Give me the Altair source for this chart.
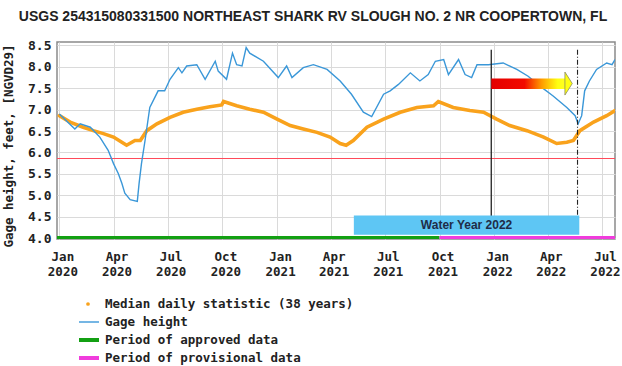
import altair as alt
import pandas as pd

TITLE = "USGS 254315080331500 NORTHEAST SHARK RV SLOUGH NO. 2 NR COOPERTOWN, FL"
Y_TITLE = "Gage height, feet, [NGVD29]"
MONO = "DejaVu Sans Mono"
SANS = "Liberation Sans"

# Gage height (feet, NGVD29)
gage_dates = [
    "2020-01-01", "2020-01-27", "2020-02-05", "2020-02-22", "2020-03-09", "2020-03-23",
    "2020-04-01", "2020-04-09", "2020-04-15", "2020-04-20", "2020-04-29", "2020-05-11",
    "2020-05-14", "2020-05-18", "2020-05-24", "2020-06-01", "2020-06-15", "2020-06-26",
    "2020-07-05", "2020-07-19", "2020-07-25", "2020-08-02", "2020-08-19", "2020-09-02",
    "2020-09-19", "2020-09-24", "2020-10-08", "2020-10-18", "2020-10-25", "2020-11-03",
    "2020-11-10", "2020-11-16", "2020-12-09", "2021-01-03", "2021-01-17", "2021-01-26",
    "2021-02-14", "2021-03-03", "2021-03-26", "2021-04-17", "2021-05-06", "2021-05-26",
    "2021-06-09", "2021-06-29", "2021-07-10", "2021-07-24", "2021-08-13", "2021-08-29",
    "2021-09-12", "2021-09-24", "2021-10-08", "2021-10-16", "2021-11-02", "2021-11-13",
    "2021-11-24", "2021-12-03", "2021-12-22", "2022-01-16", "2022-02-08", "2022-02-27",
    "2022-03-19", "2022-04-10", "2022-05-03", "2022-05-17", "2022-05-22", "2022-05-28",
    "2022-06-02", "2022-06-10", "2022-06-22", "2022-07-09", "2022-07-18", "2022-07-23",
]
gage_values = [
    6.90, 6.55, 6.67, 6.59, 6.36, 6.05,
    5.74, 5.51, 5.28, 5.05, 4.90, 4.86,
    5.28, 5.74, 6.28, 7.05, 7.44, 7.44,
    7.71, 7.98, 7.86, 8.02, 8.05, 7.71,
    8.13, 7.90, 7.71, 8.32, 8.05, 8.02,
    8.45, 8.32, 8.13, 7.75, 8.02, 7.75,
    7.98, 8.05, 7.94, 7.67, 7.36, 6.94,
    6.84, 7.36, 7.44, 7.59, 7.86, 7.67,
    7.82, 8.13, 8.17, 7.82, 8.17, 7.82,
    7.75, 8.05, 8.05, 8.09, 7.94, 7.78,
    7.55, 7.32, 7.05, 6.86, 6.67, 6.86,
    7.44, 7.67, 7.94, 8.09, 8.05, 8.17,
]

# Median daily statistic (38 years)
median_dates = [
    "2020-01-01", "2020-01-19", "2020-02-10", "2020-02-27", "2020-03-15", "2020-04-01",
    "2020-04-15", "2020-04-23", "2020-05-07", "2020-05-16", "2020-05-27", "2020-06-13",
    "2020-07-05", "2020-07-27", "2020-08-19", "2020-09-10", "2020-09-30", "2020-10-03",
    "2020-10-25", "2020-11-16", "2020-12-09", "2021-01-01", "2021-01-23", "2021-02-14",
    "2021-03-09", "2021-03-31", "2021-04-17", "2021-04-27", "2021-05-09", "2021-06-01",
    "2021-06-29", "2021-07-27", "2021-08-24", "2021-09-21", "2021-09-29", "2021-10-24",
    "2021-11-21", "2021-12-14", "2022-01-05", "2022-01-27", "2022-02-25", "2022-03-25",
    "2022-04-16", "2022-05-03", "2022-05-14", "2022-05-25", "2022-06-17", "2022-07-09",
    "2022-07-23",
]
median_values = [
    6.86, 6.71, 6.59, 6.51, 6.44, 6.36,
    6.24, 6.17, 6.28, 6.28, 6.51, 6.67,
    6.82, 6.94, 7.01, 7.07, 7.11, 7.19,
    7.09, 7.01, 6.94, 6.78, 6.63, 6.55,
    6.47, 6.36, 6.21, 6.17, 6.28, 6.59,
    6.78, 6.94, 7.05, 7.09, 7.19, 7.05,
    6.98, 6.94, 6.78, 6.63, 6.51, 6.36,
    6.21, 6.24, 6.28, 6.51, 6.71, 6.86,
    6.98,
]

threshold_value = 5.86

# Data-approval periods shown along the bottom edge
period_names = ["approved", "provisional"]
period_starts = ["2019-12-28", "2021-10-01"]
period_ends = ["2021-10-01", "2022-07-23"]
period_colors = ["#13a013", "#f03cdc"]

# Annotations
current_marker_date = "2021-12-27"
recent_marker_date = "2022-05-21"
water_year_label = "Water Year 2022"
water_year_start, water_year_end = "2021-05-10", "2022-05-24"
arrow_start, arrow_head_base, arrow_head_mid = "2021-12-27", "2022-04-30", "2022-05-06"

legend_labels = [
    "Median daily statistic (38 years)",
    "Gage height",
    "Period of approved data",
    "Period of provisional data",
]


def ts(d):
    return d + "T00:00:00"


x_scale = alt.Scale(domain=[alt.DateTime(year=2019, month=12, date=28),
                            alt.DateTime(year=2022, month=7, date=23)])
y_scale = alt.Scale(domain=[3.98, 8.58], nice=False, zero=False)

quarter_ticks = [alt.DateTime(year=y, month=m, date=1)
                 for y in (2020, 2021, 2022) for m in (1, 4, 7, 10)
                 if not (y == 2022 and m == 10)]

x_axis = alt.Axis(
    values=quarter_ticks,
    labelExpr="[timeFormat(datum.value, '%b'), timeFormat(datum.value, '%Y')]",
    title=None, grid=True, gridColor="#dadada", ticks=False, domain=False,
    labelFont=MONO, labelFontSize=12.5, labelFontWeight="bold", labelColor="#222",
    labelPadding=11, labelLineHeight=15, labelOffset=3, labelAngle=0,
)
y_axis = alt.Axis(
    values=[4.0, 4.5, 5.0, 5.5, 6.0, 6.5, 7.0, 7.5, 8.0, 8.5], format=".1f",
    title=None, grid=True, gridColor="#dadada", ticks=False, domain=False,
    labelFont=MONO, labelFontSize=13, labelFontWeight="bold", labelColor="#222",
    labelPadding=6,
)


def X(field="date"):
    return alt.X(f"{field}:T", scale=x_scale, axis=x_axis)


def Y(field="value"):
    return alt.Y(f"{field}:Q", scale=y_scale, axis=y_axis)


gage = pd.DataFrame({"date": [ts(d) for d in gage_dates], "value": gage_values})
median = pd.DataFrame({"date": [ts(d) for d in median_dates], "value": median_values})

median_line = alt.Chart(median).mark_line(
    color="#f9a21c", strokeWidth=3.6, clip=True, strokeCap="round"
).encode(x=X(), y=Y())

gage_line = alt.Chart(gage).mark_line(
    color="#3a97d8", strokeWidth=1.4, clip=True
).encode(x=X(), y=Y())

threshold = alt.Chart(pd.DataFrame({"value": [threshold_value]})).mark_rule(
    color="#ff4a5a", strokeWidth=1.2
).encode(y=Y())

markers = pd.DataFrame({
    "date": [ts(current_marker_date), ts(recent_marker_date)],
    "top": [8.40, 8.40], "bottom": [4.30, 4.30], "kind": ["solid", "dashed"],
})
solid_marker = alt.Chart(markers[markers.kind == "solid"]).mark_rule(
    color="#222", strokeWidth=1.3
).encode(x=X(), y=Y("top"), y2="bottom")
dashed_marker = alt.Chart(markers[markers.kind == "dashed"]).mark_rule(
    color="#222", strokeWidth=1.1, strokeDash=[5, 2, 1, 2]
).encode(x=X(), y=Y("top"), y2="bottom")

wy = pd.DataFrame({"start": [ts(water_year_start)], "end": [ts(water_year_end)],
                   "lo": [4.08], "hi": [4.53], "label": [water_year_label]})
wy_box = alt.Chart(wy).mark_rect(color="#5ec6f4").encode(
    x=X("start"), x2="end", y=Y("lo"), y2="hi")
wy_text = alt.Chart(wy).transform_calculate(
    mid="(toDate(datum.start) + toDate(datum.end)) / 2", ymid="(datum.lo + datum.hi) / 2"
).mark_text(font=SANS, fontSize=12, fontWeight="bold", color="#1f2c48",
            baseline="middle").encode(
    x=X("mid"), y=Y("ymid"), text="label:N")

arrow_body = alt.Chart(pd.DataFrame({
    "start": [ts(arrow_start)], "end": [ts(arrow_head_base)], "lo": [7.48], "hi": [7.73]
})).mark_rect(
    color=alt.Gradient(
        gradient="linear", x1=0, x2=1, y1=0, y2=0,
        stops=[alt.GradientStop(offset=0, color="#e40000"),
               alt.GradientStop(offset=0.45, color="#f20a00"),
               alt.GradientStop(offset=0.68, color="#ff9a00"),
               alt.GradientStop(offset=0.9, color="#ffff10"),
               alt.GradientStop(offset=1, color="#ffff20")]),
).encode(x=X("start"), x2="end", y=Y("lo"), y2="hi")

arrow_head = alt.Chart(pd.DataFrame({"date": [ts(arrow_head_mid)], "value": [7.61]})).mark_point(
    shape="M -0.32 -1 L 0.32 0 L -0.32 1 Z", size=530, filled=True,
    fill="#ffff10", stroke="#8a8a60", strokeWidth=0.8, opacity=1
).encode(x=X(), y=Y())

periods = pd.DataFrame({
    "name": period_names, "start": [ts(d) for d in period_starts],
    "end": [ts(d) for d in period_ends], "value": [4.0, 4.0], "color": period_colors,
})
period_bars = alt.Chart(periods).mark_rule(strokeWidth=4.5, clip=True).encode(
    x=X("start"), x2="end", y=Y(), color=alt.Color("color:N", scale=None))

title_mark = alt.Chart(pd.DataFrame({"t": [TITLE]})).mark_text(
    font=SANS, fontSize=14, fontWeight="bold", color="#222",
    align="center", baseline="middle"
).encode(x=alt.value(256), y=alt.value(-25), text="t:N")

y_title_mark = alt.Chart(pd.DataFrame({"t": [Y_TITLE]})).mark_text(
    font=MONO, fontSize=12.5, fontWeight="bold", color="#222", angle=270,
    align="center", baseline="middle"
).encode(x=alt.value(-48), y=alt.value(104), text="t:N")

# Legend below the plot
legend_rows = [262, 280, 298, 316]
legend_df = pd.DataFrame({"label": legend_labels, "row": legend_rows})
legend_text = alt.Chart(legend_df).mark_text(
    font=MONO, fontSize=12.5, fontWeight="bold", color="#222", align="left",
    baseline="middle"
).encode(x=alt.value(48), y=alt.Y("row:Q", scale=None), text="label:N")

legend_dot = alt.Chart(legend_df.iloc[[0]]).mark_point(
    filled=True, color="#f9a21c", size=14, opacity=1
).encode(x=alt.value(31), y=alt.Y("row:Q", scale=None))

legend_lines_df = pd.DataFrame({
    "row": legend_rows[1:], "color": ["#3a97d8", "#13a013", "#f03cdc"], "w": [1.4, 4, 4]
})
legend_lines = alt.Chart(legend_lines_df).mark_rule().encode(
    x=alt.value(22), x2=alt.value(42), y=alt.Y("row:Q", scale=None),
    color=alt.Color("color:N", scale=None),
    strokeWidth=alt.StrokeWidth("w:Q", scale=None),
)

chart = alt.layer(
    threshold, median_line, gage_line, solid_marker, dashed_marker,
    wy_box, wy_text, arrow_body, arrow_head, period_bars,
    title_mark, y_title_mark, legend_text, legend_dot, legend_lines,
).properties(
    width=558, height=197,
    padding={"left": 57, "top": 42, "right": 7, "bottom": 127},
    autosize=alt.AutoSizeParams(type="none"),
    background="white",
).configure_view(stroke="#8a8a8a", strokeWidth=1.5)

chart.save("out.html", embed_options={"renderer": "svg", "actions": False})
